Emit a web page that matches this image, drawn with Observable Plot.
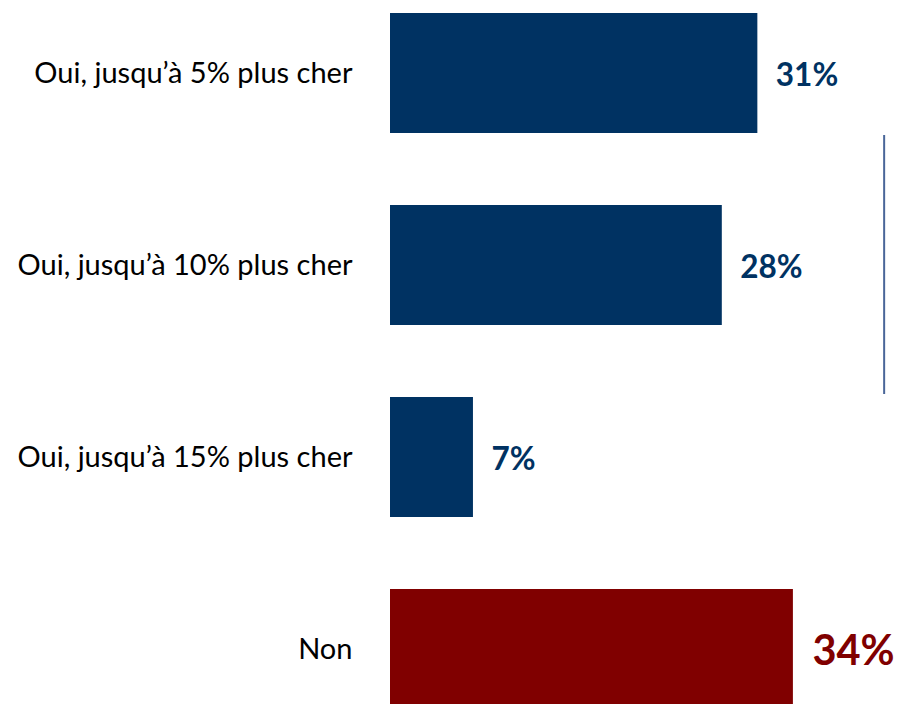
<!DOCTYPE html>
<html>
<head>
<meta charset="utf-8">
<script src="https://cdn.jsdelivr.net/npm/d3@7"></script>
<script src="https://cdn.jsdelivr.net/npm/@observablehq/plot@0.6"></script>
<style>
  html, body { margin: 0; padding: 0; background: #fff; }
  #chart svg { display: block; }
</style>
</head>
<body>
<div id="chart"></div>
<script>
const categories = ["Oui, jusqu’à 5% plus cher", "Oui, jusqu’à 10% plus cher", "Oui, jusqu’à 15% plus cher", "Non"];
const values = [31, 28, 7, 34];
const groups = ["oui", "oui", "oui", "non"];
const labels = ["31%", "28%", "7%", "34%"];
const bracketX = 41.7; // position of the "Oui" group bracket, in % units

const data = categories.map((c, i) => ({category: c, value: values[i], group: groups[i], label: labels[i]}));
const colors = {oui: "#003262", non: "#800000"};

const plot = Plot.plot({
  width: 898,
  height: 704,
  marginLeft: 390,
  marginRight: 34,
  marginTop: 13,
  marginBottom: 0,
  style: {fontFamily: "Lato, sans-serif", background: "#fff"},
  x: {domain: [0, 40], axis: null},
  y: {domain: categories, range: [13, 709], paddingInner: 0.375, paddingOuter: 0, label: null},
  marks: [
    Plot.barX(data, {x: "value", y: "category", fill: d => colors[d.group]}),
    Plot.axisY({tickSize: 0, tickPadding: 38, fontSize: 29, fill: "#000", label: null}),
    Plot.text(data.filter(d => d.group === "oui"), {
      x: "value", y: "category", text: "label", textAnchor: "start", dx: 18, dy: 2,
      fill: colors.oui, fontSize: 31.5, fontWeight: "bold"
    }),
    Plot.text(data.filter(d => d.group === "non"), {
      x: "value", y: "category", text: "label", textAnchor: "start", dx: 19, dy: 2,
      fill: colors.non, fontSize: 41.5, fontWeight: "bold"
    })
  ]
});

// Bracket line beside the "Oui" group, positioned through the plot's own scales
const xs = plot.scale("x"), ys = plot.scale("y");
const bw = ys.bandwidth;
const yTop = ys.apply(categories[0]) + bw + 2;
const yBot = ys.apply(categories[2]) - 3;
d3.select(plot).append("line")
  .attr("x1", xs.apply(bracketX)).attr("x2", xs.apply(bracketX))
  .attr("y1", yTop).attr("y2", yBot)
  .attr("stroke", "#4a6699").attr("stroke-width", 2);

document.getElementById("chart").appendChild(plot);
</script>
</body>
</html>
